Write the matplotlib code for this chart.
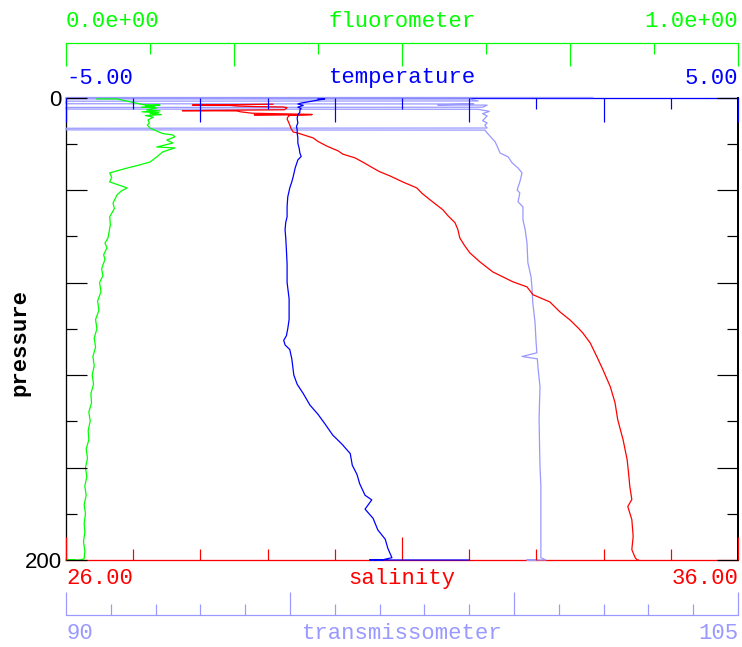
import matplotlib
matplotlib.use('Agg')
import matplotlib.pyplot as plt
import numpy as np
from matplotlib.ticker import FixedLocator, FixedFormatter, MultipleLocator

# Perfil CTD: presion (dbar) vs fluorometro, temperatura, salinidad, transmisometro

# fluorometro
p_fluor = [0.6, 0.6, 1.0, 3.1, 3.3, 3.6, 3.9, 4.2, 4.5, 5.4, 5.8, 6.2, 6.6, 7.0, 7.4, 7.8, 8.5,
           9.7, 11.0, 11.9, 13.2, 14.5, 15.6, 16.2, 17.0, 18.4, 19.7, 21.4, 21.8, 23.5, 25.7,
           27.9, 29.5, 30.5, 32.6, 34.5, 36.5, 39.1, 40.5, 42.1, 45.6, 48.0, 51.6, 55.0, 60.7,
           63.0, 65.0, 68.0, 70.0, 74.0, 77.0, 80.0, 84.0, 88.0, 92.0, 96.0, 100.0, 104.0, 108.0,
           112.0, 116.0, 120.0, 124.0, 128.0, 132.0, 136.0, 140.0, 144.0, 148.0, 152.0, 156.0,
           160.0, 164.0, 168.0, 172.0, 176.0, 180.0, 184.0, 188.0, 192.0, 196.0, 199.5,
           201.0, 205.0, 210.0]
fluor = [0.046, 0.076, 0.082, 0.115, 0.140, 0.118, 0.132, 0.112, 0.135, 0.120, 0.140, 0.113, 0.138,
         0.125, 0.142, 0.118, 0.130, 0.122, 0.124, 0.121, 0.125, 0.135, 0.144, 0.159, 0.162, 0.150,
         0.159, 0.135, 0.162, 0.144, 0.135, 0.125, 0.105, 0.091, 0.065, 0.068, 0.065, 0.091, 0.082,
         0.076, 0.070, 0.072, 0.065, 0.066, 0.0625, 0.058, 0.061, 0.056, 0.058, 0.053, 0.055, 0.050,
         0.052, 0.047, 0.049, 0.044, 0.046, 0.042, 0.044, 0.040, 0.042, 0.039, 0.041, 0.037, 0.038,
         0.034, 0.036, 0.033, 0.034, 0.030, 0.032, 0.029, 0.031, 0.028, 0.030, 0.027, 0.029, 0.027,
         0.028, 0.026, 0.028, 0.027, 0.020, 0.000, 0.012]

# temperatura
p_temp = [0.6, 0.6, 2.4, 2.8, 3.4, 4.2, 4.8, 5.4, 6.4, 7.5, 9.0, 11.0, 12.5, 14.0, 15.3, 17.5,
          19.7, 22.0, 24.0, 25.5, 27.0, 30.5, 34.3, 36.5, 39.1, 43.0, 47.3, 51.6, 54.0, 57.2,
          60.7, 66.0, 72.0, 80.0, 87.0, 96.0, 100.0, 103.0, 105.0, 107.0, 109.0, 113.0, 120.0,
          124.0, 128.0, 133.0, 137.0, 141.0, 146.0, 150.0, 154.0, 159.0, 163.0, 167.0, 172.0,
          174.0, 176.0, 178.0, 182.0, 187.0, 191.0, 195.0, 199.0, 201.0, 204.0, 208.0, 212.0]
temp = [-1.25, -1.15, -1.50, -1.55, -1.47, -1.55, -1.50, -1.52, -1.52, -1.55,
        -1.56, -1.55, -1.57, -1.56, -1.56, -1.55, -1.55, -1.53, -1.52, -1.50,
        -1.55, -1.59, -1.62, -1.64, -1.67, -1.70, -1.71, -1.71, -1.73, -1.74,
        -1.73, -1.72, -1.71, -1.71, -1.68, -1.68, -1.70, -1.72, -1.76, -1.74,
        -1.67, -1.64, -1.61, -1.56, -1.47, -1.37, -1.25, -1.15, -1.03, -0.89,
        -0.77, -0.74, -0.67, -0.63, -0.55, -0.45, -0.50, -0.55, -0.43, -0.36,
        -0.25, -0.21, -0.15, -0.30, -0.48, 0.20, 1.00]

# salinidad
p_sal = [2.9, 3.3, 3.4, 3.7, 3.9, 4.1, 4.4, 5.3, 5.7, 5.8, 6.2, 6.8, 7.3, 7.5, 7.4, 7.6, 8.5,
         9.3, 10.5, 11.9, 13.5, 14.9, 15.3, 17.5, 19.0, 21.0, 23.1, 24.5, 26.1, 28.0, 30.5,
         32.0, 33.9, 36.5, 39.1, 41.5, 44.3, 48.6, 51.0, 54.2, 57.0, 60.7, 64.0, 67.2, 71.1,
         75.4, 79.7, 81.9, 85.3, 88.4, 92.7, 96.2, 99.6, 101.8, 106.1, 112.1, 117.7, 125.1,
         132.0, 139.3, 148.0, 156.6, 162.0, 168.2, 173.8, 176.9, 182.5, 189.8, 195.5, 199.0,
         203.0, 208.0]
sal = [29.08, 27.88, 28.44, 28.55, 28.80, 29.23, 29.29, 29.25, 27.73, 28.54,
       28.60, 28.77, 29.66, 28.80, 29.66, 29.33, 29.30, 29.29, 29.31, 29.33,
       29.35, 29.38, 29.44, 29.68, 29.75, 29.88, 30.05, 30.12, 30.30, 30.42,
       30.57, 30.66, 30.82, 31.01, 31.22, 31.30, 31.42, 31.61, 31.68, 31.79,
       31.83, 31.86, 31.93, 32.01, 32.16, 32.35, 32.65, 32.86, 32.95, 33.20,
       33.35, 33.50, 33.62, 33.69, 33.80, 33.90, 33.99, 34.10, 34.17, 34.21,
       34.29, 34.35, 34.37, 34.39, 34.42, 34.36, 34.42, 34.44, 34.42, 34.47,
       34.50, 34.52]

# transmisometro (80 = lectura fuera de escala en superficie)
p_trans = [0.0, 0.0, 0.5, 0.6, 1.5, 1.6, 2.7, 2.8, 3.2, 3.3, 4.2, 4.3, 5.0, 5.1, 6.0, 7.0,
           8.0, 9.0, 10.0, 11.0, 12.0, 13.2, 13.3, 14.0, 14.1, 15.3, 19.2, 21.8, 24.0, 25.7,
           28.3, 30.5, 32.6, 36.5, 40.0, 41.3, 45.1, 47.3, 52.9, 57.2, 62.9, 71.5, 77.5, 81.9,
           88.8, 97.4, 104.8, 110.4, 112.0, 113.0, 117.7, 125.0, 139.0, 150.0, 159.6, 168.0,
           180.0, 190.0, 199.0, 202.0, 206.0, 210.0]
trans = [101.76, 80.0, 80.0, 99.0, 99.2, 80.0, 80.0, 99.1, 98.3, 99.4,
         99.3, 80.0, 80.0, 99.2, 99.45, 99.3, 99.4, 99.35, 99.3, 99.4,
         99.35, 99.4, 80.0, 80.0, 99.35, 99.4, 99.58, 99.64, 99.69, 99.87,
         99.96, 100.09, 100.18, 100.13, 100.07, 100.13, 100.09, 100.2, 100.2, 100.25,
         100.29, 100.31, 100.38, 100.4, 100.42, 100.47, 100.49, 100.51, 100.18, 100.52,
         100.54, 100.58, 100.56, 100.57, 100.58, 100.6, 100.6, 100.6, 100.6, 100.71,
         100.29, 100.5]

# rangos de cada eje
P_RANGE = (0, 200)
FLUOR_RANGE = (0.0, 1.0)
TEMP_RANGE = (-5.0, 5.0)
SAL_RANGE = (26.0, 36.0)
TRANS_RANGE = (90.0, 105.0)

VERDE = '#00ff00'
AZUL = '#0000ff'
ROJO = '#ff0000'
CELESTE = '#9999ff'
MONO = 'Liberation Mono'

W, H = 742, 647
PX = 0.72  # puntos por pixel a 100 dpi
LW = 0.9


def rect_px(x0, y0, x1, y1):
    return [x0 / W, 1 - y1 / H, (x1 - x0) / W, (y1 - y0) / H]


def recortar(valores, rango):
    # los valores fuera de escala se dibujan pegados al borde
    return np.clip(np.asarray(valores, dtype=float), rango[0], rango[1])


fig = plt.figure(figsize=(W / 100, H / 100), dpi=100)
PLOT = rect_px(66, 97.5, 738, 560)

# marco
frame = fig.add_axes(PLOT)
frame.set_xlim(0, 1)
frame.set_ylim(P_RANGE[1], P_RANGE[0])
frame.set_xticks([])
frame.set_yticks([])
frame.spines['top'].set_color(AZUL)
frame.spines['bottom'].set_color(ROJO)
for lado in ['top', 'bottom', 'left']:
    frame.spines[lado].set_linewidth(1.3 * PX)
frame.spines['right'].set_linewidth(2 * PX)


def eje_datos(rango):
    a = fig.add_axes(PLOT)
    a.set_xlim(*rango)
    a.set_ylim(P_RANGE[1], P_RANGE[0])
    a.axis('off')
    a.patch.set_visible(False)
    return a


ax_tr = eje_datos(TRANS_RANGE)
ax_tr.plot(recortar(trans, TRANS_RANGE), recortar(p_trans, P_RANGE),
           color=CELESTE, lw=LW, clip_on=False)

ax_f = eje_datos(FLUOR_RANGE)
ax_f.plot(recortar(fluor, FLUOR_RANGE), recortar(p_fluor, P_RANGE),
          color=VERDE, lw=LW, clip_on=False)

# salinidad + presion
ax = fig.add_axes(PLOT)
ax.set_xlim(*SAL_RANGE)
ax.set_ylim(P_RANGE[1], P_RANGE[0])
ax.patch.set_visible(False)
for s in ax.spines.values():
    s.set_visible(False)
ax.plot(recortar(sal, SAL_RANGE), recortar(p_sal, P_RANGE),
        color=ROJO, lw=LW, clip_on=False)

# temperatura
ax_t = ax.twiny()
ax_t.set_xlim(*TEMP_RANGE)
for s in ax_t.spines.values():
    s.set_visible(False)
ax_t.plot(recortar(temp, TEMP_RANGE), recortar(p_temp, P_RANGE),
          color=AZUL, lw=LW, clip_on=False)

ax.xaxis.set_major_locator(FixedLocator([26, 31, 36]))
ax.xaxis.set_minor_locator(MultipleLocator(1))
ax.tick_params(axis='x', which='both', direction='in', color=ROJO, bottom=True, top=False,
               labelbottom=False, labeltop=False, width=1.2 * PX)
ax.tick_params(axis='x', which='major', length=23 * PX)
ax.tick_params(axis='x', which='minor', length=11 * PX)

ax.yaxis.set_major_locator(FixedLocator([0, 40, 80, 120, 160, 200]))
ax.yaxis.set_minor_locator(FixedLocator([20, 60, 100, 140, 180]))
ax.yaxis.set_major_formatter(FixedFormatter(['0', '', '', '', '', '200']))
ax.tick_params(axis='y', which='both', direction='in', color='black', left=True, right=True,
               labelleft=True, labelright=False, width=1.2 * PX)
ax.tick_params(axis='y', which='major', length=21 * PX, pad=3, labelsize=16,
               labelfontfamily='Liberation Sans')
ax.tick_params(axis='y', which='minor', length=11 * PX)

ax_t.xaxis.set_major_locator(FixedLocator([-5, -3, -1, 1, 3, 5]))
ax_t.xaxis.set_minor_locator(FixedLocator([-4, -2, 0, 2, 4]))
ax_t.tick_params(axis='x', which='both', direction='in', color=AZUL, top=True, bottom=False,
                 labeltop=False, labelbottom=False, width=1.2 * PX)
ax_t.tick_params(axis='x', which='major', length=24 * PX)
ax_t.tick_params(axis='x', which='minor', length=10.5 * PX)

# barras de eje del fluorometro (arriba) y transmisometro (abajo)
ax_fb = fig.add_axes(rect_px(66, 43, 738, 70))
ax_fb.set_xlim(*FLUOR_RANGE)
ax_fb.patch.set_visible(False)
for lado in ['left', 'right', 'bottom']:
    ax_fb.spines[lado].set_visible(False)
ax_fb.spines['top'].set_color(VERDE)
ax_fb.spines['top'].set_linewidth(1.2 * PX)
ax_fb.set_yticks([])
ax_fb.xaxis.set_ticks_position('top')
ax_fb.xaxis.set_major_locator(MultipleLocator(0.25))
ax_fb.xaxis.set_minor_locator(MultipleLocator(0.125))
ax_fb.tick_params(axis='x', which='both', direction='in', color=VERDE, width=1.2 * PX,
                  labeltop=False, labelbottom=False)
ax_fb.tick_params(axis='x', which='major', length=23 * PX)
ax_fb.tick_params(axis='x', which='minor', length=11 * PX)

ax_tb = fig.add_axes(rect_px(66, 588, 738, 615))
ax_tb.set_xlim(*TRANS_RANGE)
ax_tb.patch.set_visible(False)
for lado in ['left', 'right', 'top']:
    ax_tb.spines[lado].set_visible(False)
ax_tb.spines['bottom'].set_color(CELESTE)
ax_tb.spines['bottom'].set_linewidth(1.2 * PX)
ax_tb.set_yticks([])
ax_tb.xaxis.set_ticks_position('bottom')
ax_tb.xaxis.set_major_locator(MultipleLocator(5))
ax_tb.xaxis.set_minor_locator(MultipleLocator(1))
ax_tb.tick_params(axis='x', which='both', direction='in', color=CELESTE, width=1.2 * PX,
                  labeltop=False, labelbottom=False)
ax_tb.tick_params(axis='x', which='major', length=23 * PX)
ax_tb.tick_params(axis='x', which='minor', length=11 * PX)


def texto(x, y, s, color, ha):
    fig.text(x / W, 1 - y / H, s, color=color, ha=ha, va='baseline',
             family=MONO, fontsize=16)


texto(66, 27, '0.0e+00', VERDE, 'left')
texto(402, 27, 'fluorometer', VERDE, 'center')
texto(738, 27, '1.0e+00', VERDE, 'right')

texto(66, 83.5, '-5.00', AZUL, 'left')
texto(402, 83.5, 'temperature', AZUL, 'center')
texto(738, 83.5, '5.00', AZUL, 'right')

texto(66, 584, '26.00', ROJO, 'left')
texto(402, 584, 'salinity', ROJO, 'center')
texto(738, 584, '36.00', ROJO, 'right')

texto(66, 639, '90', CELESTE, 'left')
texto(402, 639, 'transmissometer', CELESTE, 'center')
texto(738, 639, '105', CELESTE, 'right')

fig.text(20 / W, 1 - 342 / H, 'pressure', rotation=90, ha='center', va='center',
         family=MONO, fontsize=16, fontweight='bold', color='black')

fig.savefig('out.png', dpi=100)
plt.close(fig)
